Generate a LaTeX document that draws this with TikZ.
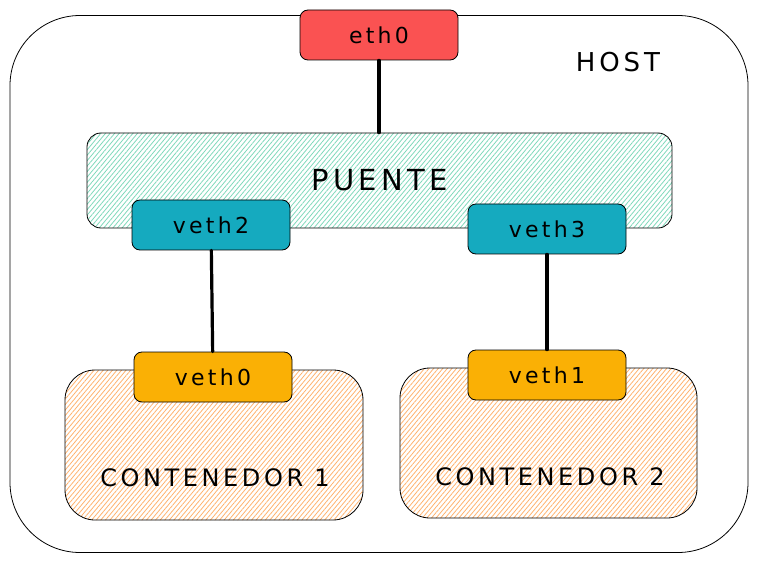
\documentclass[tikz,border=0pt]{standalone}
\usepackage{fontspec}
\setmainfont{DejaVu Sans}[LetterSpace=15]
\usepackage{xcolor}
\usepackage{tikz}
\usetikzlibrary{patterns.meta}

\definecolor{rojo}{HTML}{FA5252}
\definecolor{turquesa}{HTML}{15AABF}
\definecolor{ambar}{HTML}{FAB005}
\definecolor{verdeclaro}{HTML}{7FD8BB}
\definecolor{naranjaclaro}{HTML}{FFB26E}

\tikzset{
	iface/.style={draw=black, line width=0.8pt, rounded corners=8pt, minimum width=158pt, minimum height=50pt, font=\fontsize{22}{26}\selectfont},
	hatchbox/.style={draw=black, line width=0.8pt, pattern={Lines[angle=50, distance=3.5pt, line width=0.8pt]}},
	conn/.style={line width=3.2pt, line cap=round},
}

\begin{document}
\begin{tikzpicture}[x=1pt, y=-1pt]
		\useasboundingbox (0,0) rectangle (758,564);
		
		% host
		\node[draw=black, line width=0.8pt, rounded corners=70pt, minimum width=738pt, minimum height=537pt] (host) at (379,284) {};
		\node[font=\fontsize{26}{30}\selectfont] (hostlbl) at (618,62) {HOST};
		
		% puente y sus veth
		\node[hatchbox, pattern color=verdeclaro, rounded corners=14pt, minimum width=585pt, minimum height=95pt, font=\fontsize{29}{34}\selectfont] (puente) at (379.5,180.5) {PUENTE};
		\node[iface, fill=turquesa] (veth2) at (211,225) {veth2};
		\node[iface, fill=turquesa] (veth3) at (547,229) {veth3};
		
		% contenedores
		\node[hatchbox, pattern color=naranjaclaro, rounded corners=30pt, minimum width=298pt, minimum height=150pt] (cont1) at (214,445) {};
		\node[hatchbox, pattern color=naranjaclaro, rounded corners=30pt, minimum width=297pt, minimum height=150pt] (cont2) at (548.5,443) {};
		\node[font=\fontsize{24}{28}\selectfont] (cont1lbl) at (215,478) {CONTENEDOR 1};
		\node[font=\fontsize{24}{28}\selectfont] (cont2lbl) at (550,477) {CONTENEDOR 2};
		\node[iface, fill=ambar] (veth0) at (213,377) {veth0};
		\node[iface, fill=ambar] (veth1) at (547,375) {veth1};
		
		% eth0 encima del borde
		\node[iface, fill=rojo] (eth0) at (379,35) {eth0};
		
		\draw[conn] (eth0.south) -- (eth0.south |- puente.north);
		\draw[conn] (veth2) -- (veth0);
		\draw[conn] (veth3) -- (veth1);
	\end{tikzpicture}
\end{document}
